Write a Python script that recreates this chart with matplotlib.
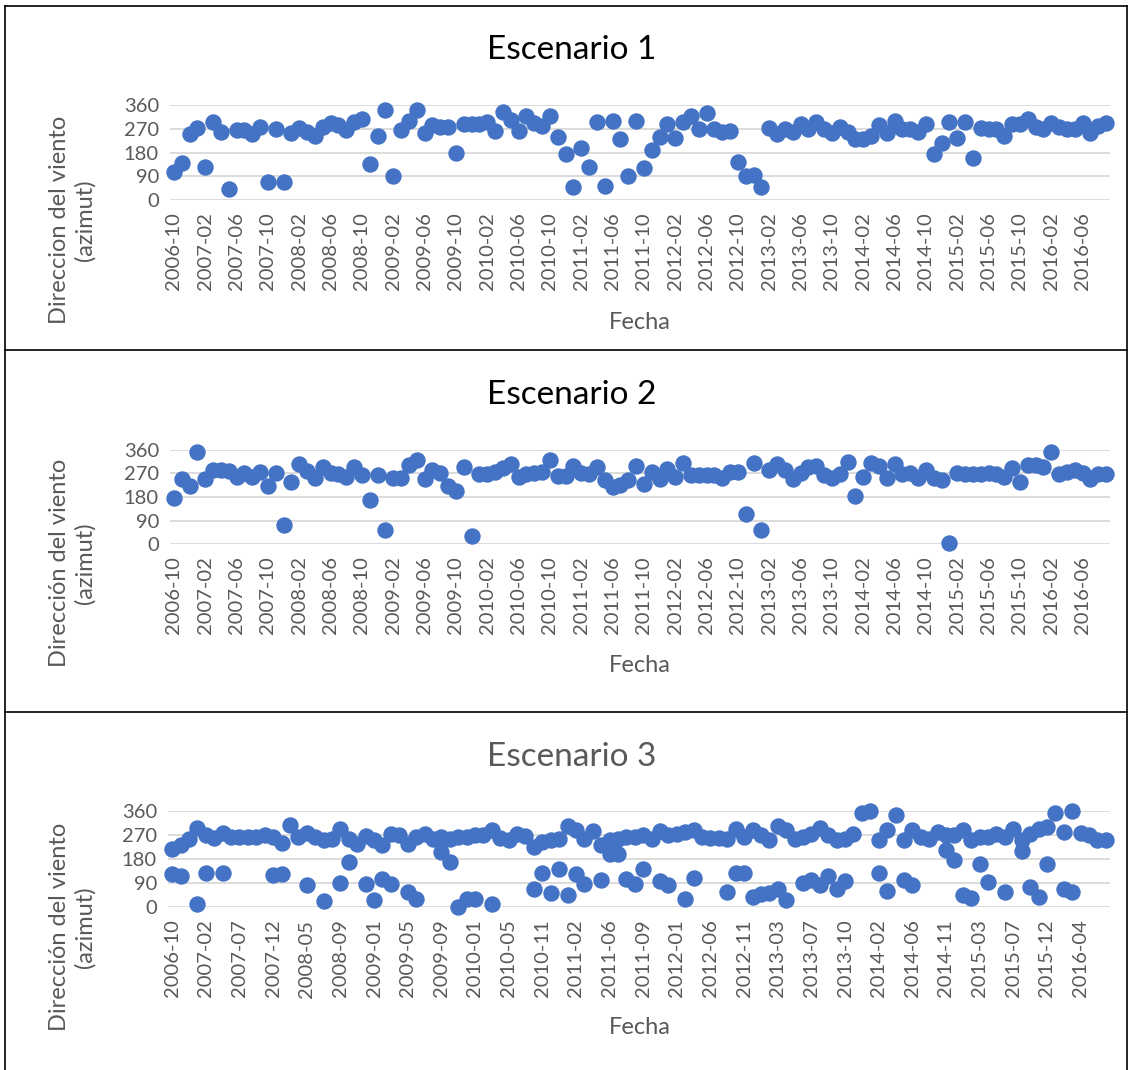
import numpy as np
import matplotlib
matplotlib.use("Agg")
import matplotlib.pyplot as plt
from matplotlib.lines import Line2D

plt.rcParams['font.family'] = ['Lato', 'DejaVu Sans']

# Escenario 1 - monthly wind direction (azimut), 2006-10 .. 2016-09
esc1 = [105, 141, 250, 271, 126, 297, 256, 40, 265, 265,
        250, 278, 67, 268, 67, 255, 271, 259, 244, 275,
        290, 284, 265, 294, 307, 135, 242, 341, 92, 265,
        300, 341, 253, 284, 275, 275, 177, 287, 287, 287,
        294, 263, 335, 303, 263, 318, 290, 282, 320, 240,
        174, 51, 196, 124, 297, 54, 299, 230, 92, 299,
        120, 189, 240, 287, 234, 294, 320, 268, 331, 268,
        256, 263, 143, 92, 95, 51, 274, 250, 268, 259,
        287, 268, 294, 268, 253, 278, 259, 230, 230, 242,
        284, 255, 300, 268, 268, 256, 287, 173, 217, 297,
        234, 294, 158, 272, 268, 268, 242, 287, 287, 307,
        278, 268, 290, 275, 268, 268, 290, 253, 280, 290]

# Escenario 2 - same months
esc2 = [178, 249, 224, 354, 248, 284, 284, 280, 258, 271,
        258, 275, 223, 271, 74, 239, 306, 280, 254, 294,
        273, 267, 258, 294, 265, 167, 265, 52, 254, 252,
        303, 322, 249, 284, 270, 223, 204, 293, 29, 267,
        267, 277, 290, 305, 258, 267, 271, 277, 322, 261,
        262, 299, 271, 268, 294, 245, 218, 226, 245, 299,
        230, 275, 249, 287, 258, 312, 264, 264, 264, 264,
        252, 274, 274, 116, 312, 52, 284, 305, 282, 249,
        271, 296, 300, 264, 254, 267, 313, 185, 258, 309,
        300, 254, 305, 267, 273, 254, 284, 254, 245, 4,
        273, 267, 267, 267, 273, 267, 258, 290, 239, 303,
        303, 294, 351, 267, 277, 284, 273, 248, 267, 267]

ticks_12 = ['2006-10', '2007-02', '2007-06', '2007-10', '2008-02', '2008-06',
            '2008-10', '2009-02', '2009-06', '2009-10', '2010-02', '2010-06',
            '2010-10', '2011-02', '2011-06', '2011-10', '2012-02', '2012-06',
            '2012-10', '2013-02', '2013-06', '2013-10', '2014-02', '2014-06',
            '2014-10', '2015-02', '2015-06', '2015-10', '2016-02', '2016-06']

# Escenario 3 - two readings per date (upper band / lower band)
esc3_a = [216, 234, 254, 297, 269, 259, 279, 262, 262, 262,
          262, 271, 262, 240, 309, 262, 279, 262, 250, 256,
          291, 256, 238, 265, 250, 231, 275, 271, 238, 262,
          275, 256, 262, 256, 262, 262, 269, 271, 288, 259,
          250, 275, 266, 225, 244, 250, 256, 304, 288, 256,
          284, 231, 250, 256, 262, 262, 269, 256, 284, 269,
          275, 280, 288, 262, 259, 259, 256, 294, 262, 288,
          271, 250, 304, 288, 256, 262, 275, 298, 271, 250,
          256, 275, 354, 359, 250, 288, 346, 250, 288, 262,
          256, 281, 269, 269, 288, 250, 262, 262, 275,
          262, 294, 252, 275, 294, 300, 354, 281, 359, 279,
          271, 250, 250]
N = None
esc3_b = [122, 116, N, 12, 127, N, 129, N, N, N,
          N, N, 121, 125, N, N, 81, N, 21, N,
          91, 169, N, 88, 25, 104, 88, N, 56, 31,
          N, N, 208, 169, 0, 31, 31, N, 10, N,
          N, N, N, 66, 129, 54, 141, 44, 125, 88,
          N, 100, 200, 200, 104, 88, 141, N, 96, 81,
          N, 31, 109, N, N, N, 56, 129, 129, 38,
          50, 54, 66, 25, N, 91, 100, 81, 116, 66,
          96, N, N, N, 129, 59, N, 100, 84, N,
          N, N, 212, 175, 46, 34, 162, 94, N,
          56, N, 209, 75, 38, 162, N, 69, 56, N,
          N, N, N]

ticks_3 = ['2006-10', '2007-02', '2007-07', '2007-12', '2008-05', '2008-09',
           '2009-01', '2009-05', '2009-09', '2010-01', '2010-05', '2010-11',
           '2011-02', '2011-06', '2011-09', '2012-01', '2012-06', '2012-11',
           '2013-03', '2013-07', '2013-10', '2014-02', '2014-06', '2014-11',
           '2015-03', '2015-07', '2015-12', '2016-04']

W, H = 1128, 1070
BLUE = '#4472C4'
GREY = '#595959'


def fx(px):
    return px / W


def fy(py):
    return 1 - py / H


fig = plt.figure(figsize=(W / 100, H / 100), dpi=100)


def panel(left, right, top, bottom, series, ticks):
    ax = fig.add_axes([fx(left), fy(bottom), fx(right - left), (bottom - top) / H])
    n = len(series[0])
    for s in series:
        y = np.array([np.nan if v is None else v for v in s], dtype=float)
        ax.plot(np.arange(n), y, 'o', ms=10.8, color=BLUE, mec=BLUE,
                clip_on=False, zorder=3)
    ax.set_xlim(-0.5, n - 0.5)
    ax.set_ylim(0, 360)
    ax.set_yticks([0, 90, 180, 270, 360])
    ax.yaxis.grid(True, color='#D9D9D9', lw=1.3)
    ax.set_axisbelow(True)
    ax.set_xticks(np.arange(0, 4 * len(ticks), 4))
    ax.set_xticklabels(ticks, rotation=90)
    ax.tick_params(length=0, labelsize=14.5, labelcolor=GREY)
    ax.tick_params(axis='x', pad=9)
    ax.tick_params(axis='y', pad=8)
    for sp in ax.spines.values():
        sp.set_visible(False)
    return ax


panel(170, 1110, 105, 200, [esc1], ticks_12)
panel(170, 1110, 450, 544, [esc2], ticks_12)
panel(168, 1110, 811, 907, [esc3_a, esc3_b], ticks_3)

# titles and axis texts
fig.text(fx(572), fy(50), 'Escenario 1', ha='center', va='center', fontsize=24, color='#000000')
fig.text(fx(572), fy(395), 'Escenario 2', ha='center', va='center', fontsize=24, color='#000000')
fig.text(fx(572), fy(757), 'Escenario 3', ha='center', va='center', fontsize=24, color=GREY)

ylabels = ['Direccion del viento\n(azimut)', 'Dirección del viento\n(azimut)',
           'Dirección del viento\n(azimut)']
for lab, cy in zip(ylabels, [220, 563, 927]):
    fig.text(fx(72), fy(cy), lab, ha='center', va='center', rotation=90,
             fontsize=17, color=GREY, linespacing=1.25)
for cy in [322, 666, 1028]:
    fig.text(fx(640), fy(cy), 'Fecha', ha='center', va='center', fontsize=17, color=GREY)

# chart frames
for seg in [((5, 5), (6, 1070)), ((5, 1127), (6, 6)), ((1127, 1127), (6, 1070)),
            ((5, 1127), (350, 350)), ((5, 1127), (712, 712))]:
    xs, ys = seg
    fig.add_artist(Line2D([fx(x) for x in xs], [fy(y) for y in ys],
                          transform=fig.transFigure, color='#000000', lw=1.2))

fig.savefig('out.png', dpi=100)
